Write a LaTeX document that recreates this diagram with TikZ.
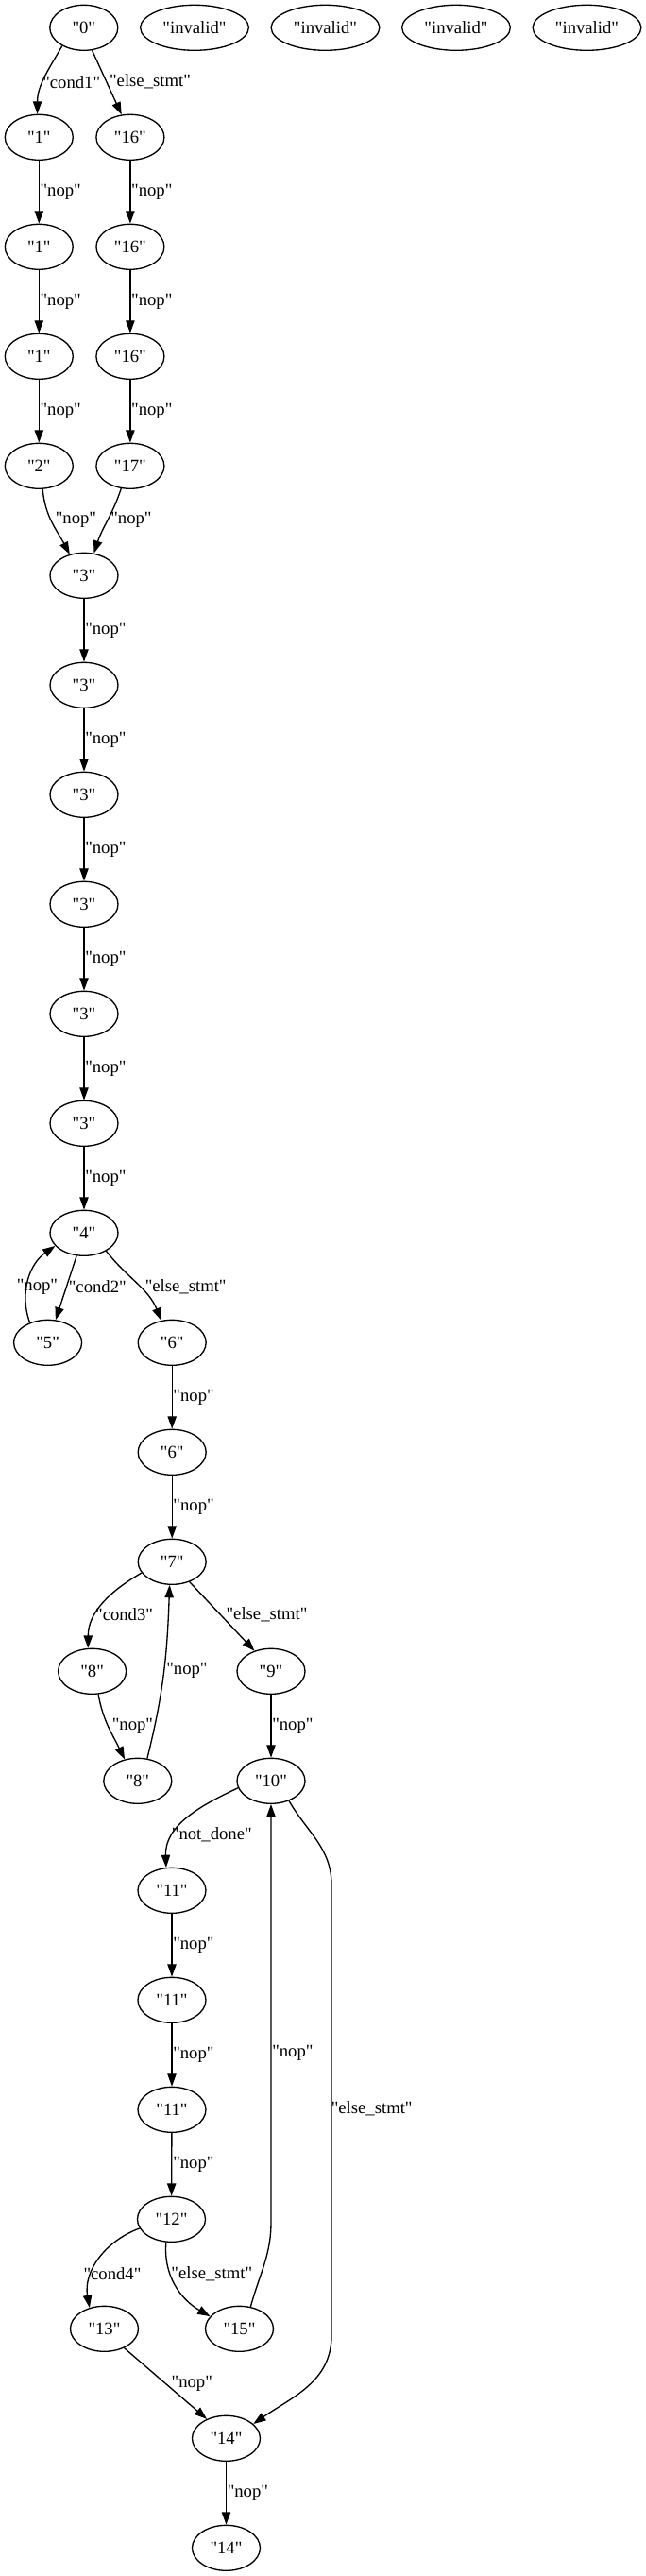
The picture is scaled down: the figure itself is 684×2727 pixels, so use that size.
\documentclass[tikz,border=0pt]{standalone}
\usepackage{fontspec}
\setmainfont{Liberation Serif}[Ligatures=TeXOff]
\usetikzlibrary{arrows.meta,shapes.geometric}
\begin{document}
\begin{tikzpicture}[x=0.75pt,y=-0.75pt,
  st/.style={ellipse,draw,line width=1pt,minimum width=54pt,minimum height=36pt,inner sep=0pt,font=\fontsize{14}{16}\selectfont},
  wide/.style={st,minimum width=86pt},
  edge/.style={draw,line width=1pt,-{Triangle[length=10pt,width=7pt]}},
  lbl/.style={inner sep=0pt,font=\fontsize{14}{16}\selectfont},
  lw/.style={lbl,anchor=west}]
\fill[white] (0,0) rectangle (684,2727);
% nodes
\node[st] (n0) at (88.8,29.3) {"0"};
\node[wide] (inv1) at (206,29.3) {"invalid"};
\node[wide] (inv2) at (344.5,29.3) {"invalid"};
\node[wide] (inv3) at (483,29.3) {"invalid"};
\node[wide] (inv4) at (621.5,29.3) {"invalid"};
\node[st] (a1) at (41.3,145.3) {"1"};
\node[st] (a2) at (41.3,261.3) {"1"};
\node[st] (a3) at (41.3,377.3) {"1"};
\node[st] (a4) at (41.3,493.3) {"2"};
\node[st] (b1) at (137.9,145.3) {"16"};
\node[st] (b2) at (137.9,261.3) {"16"};
\node[st] (b3) at (137.9,377.3) {"16"};
\node[st] (b4) at (137.9,493.3) {"17"};
\node[st] (t5) at (89,609.3) {"3"};
\node[st] (t6) at (89,725.3) {"3"};
\node[st] (t7) at (89,841.3) {"3"};
\node[st] (t8) at (89,957.3) {"3"};
\node[st] (t9) at (89,1073.3) {"3"};
\node[st] (t10) at (89,1189.3) {"3"};
\node[st] (n4) at (89,1305.3) {"4"};
\node[st] (n5) at (50.6,1421.3) {"5"};
\node[st] (n6a) at (182.2,1421.3) {"6"};
\node[st] (n6b) at (182.2,1537.3) {"6"};
\node[st] (n7) at (182.2,1653.3) {"7"};
\node[st] (n8a) at (97.6,1769.3) {"8"};
\node[st] (n9) at (287,1769.3) {"9"};
\node[st] (n8b) at (145.8,1885.3) {"8"};
\node[st] (n10) at (287,1885.3) {"10"};
\node[st] (n11a) at (182,2001.3) {"11"};
\node[st] (n11b) at (182,2117.3) {"11"};
\node[st] (n11c) at (182,2233.3) {"11"};
\node[st] (n12) at (181.5,2349.3) {"12"};
\node[st] (n13) at (110.5,2465.3) {"13"};
\node[st] (n15) at (253.5,2465.3) {"15"};
\node[st] (n14a) at (239.5,2581.3) {"14"};
\node[st] (n14b) at (239.5,2697.3) {"14"};
\coordinate (c1) at (351,1995);
\coordinate (c2) at (351,2473);
\coordinate (c3) at (287,2352);
% edges
\path[edge] (n0.220) to[out=240,in=90] (a1.94);
\node[lbl] (l1) at (75.7,86.7) {"cond1"};
\path[edge] (n0.290) -- (b1.111);
\node[lbl] (l2) at (159,86.7) {"else\_stmt"};
\path[edge] (a1) -- (a2);
\node[lw] (l3) at (42.3,203.3) {"nop"};
\path[edge] (a2) -- (a3);
\node[lw] (l4) at (42.3,319.3) {"nop"};
\path[edge] (a3) -- (a4);
\node[lw] (l5) at (42.3,435.3) {"nop"};
\path[edge] (b1) -- (b2);
\node[lw] (l6) at (138.9,203.3) {"nop"};
\path[edge] (b2) -- (b3);
\node[lw] (l7) at (138.9,319.3) {"nop"};
\path[edge] (b3) -- (b4);
\node[lw] (l8) at (138.9,435.3) {"nop"};
\path[edge] (a4.-81) to[out=-85,in=118] (t5.124);
\node[lbl] (l9) at (80.5,550) {"nop"};
\path[edge] (b4.-112) to[out=-108,in=72] (t5.66);
\node[lbl] (l10) at (139,550) {"nop"};
\path[edge] (t5) -- (t6);
\node[lw] (l11) at (90,667.3) {"nop"};
\path[edge] (t6) -- (t7);
\node[lw] (l12) at (90,783.3) {"nop"};
\path[edge] (t7) -- (t8);
\node[lw] (l13) at (90,899.3) {"nop"};
\path[edge] (t8) -- (t9);
\node[lw] (l14) at (90,1015.3) {"nop"};
\path[edge] (t9) -- (t10);
\node[lw] (l15) at (90,1131.3) {"nop"};
\path[edge] (t10) -- (n4);
\node[lw] (l16) at (90,1247.3) {"nop"};
\path[edge] (n4.-108) -- (n5.71);
\node[lbl] (l17) at (103.3,1362.3) {"cond2"};
\path[edge] (n5.132) to[out=110,in=215] (n4.204);
\node[lbl] (l18) at (39.5,1362.3) {"nop"};
\path[edge] (n4.-39) to[out=-52,in=112] (n6a.116);
\node[lbl] (l19) at (196.7,1362.3) {"else\_stmt"};
\path[edge] (n6a) -- (n6b);
\node[lw] (l20) at (183.2,1479.3) {"nop"};
\path[edge] (n6b) -- (n7);
\node[lw] (l21) at (183.2,1595.3) {"nop"};
\path[edge] (n7.200) to[out=210,in=90] (n8a.100);
\node[lbl] (l22) at (131.6,1709.3) {"cond3"};
\path[edge] (n7.-49) -- (n9.129);
\node[lbl] (l23) at (282.5,1709.3) {"else\_stmt"};
\path[edge] (n8a.-75) to[out=-80,in=116] (n8b.121);
\node[lbl] (l24) at (140.5,1827.7) {"nop"};
\path[edge] (n8b.67) to[out=76,in=-92] (n7.-96);
\node[lbl] (l25) at (198,1768.3) {"nop"};
\path[edge] (n9) -- (n10);
\node[lw] (l26) at (288,1827.3) {"nop"};
\path[edge] (n10.192) to[out=205,in=92] (n11a.104);
\node[lbl] (l27) at (224.3,1942.3) {"not\_done"};
\path[edge] (n10.-48) to[out=-60,in=90] (c1) -- (c2) to[out=-90,in=35] (n14a.28);
\node[lbl] (l28) at (393.7,2232) {"else\_stmt"};
\path[edge] (n11a) -- (n11b);
\node[lw] (l29) at (183,2059.3) {"nop"};
\path[edge] (n11b) -- (n11c);
\node[lw] (l30) at (183,2175.3) {"nop"};
\path[edge] (n11c) -- (n12);
\node[lw] (l31) at (183,2291.3) {"nop"};
\path[edge] (n12.196) to[out=200,in=100] (n13.125);
\node[lbl] (l32) at (119,2406.7) {"cond4"};
\path[edge] (n12.-103) to[out=-95,in=150] (n15.157);
\node[lbl] (l33) at (224.3,2406.7) {"else\_stmt"};
\path[edge] (n15.63) to[out=75,in=-90] (c3) -- (n10);
\node[lw] (l34) at (288,2173.3) {"nop"};
\path[edge] (n13.-44) -- (n14a.135);
\node[lbl] (l35) at (203.3,2523.3) {"nop"};
\path[edge] (n14a) -- (n14b);
\node[lw] (l36) at (240.5,2639.3) {"nop"};
\end{tikzpicture}
\end{document}
